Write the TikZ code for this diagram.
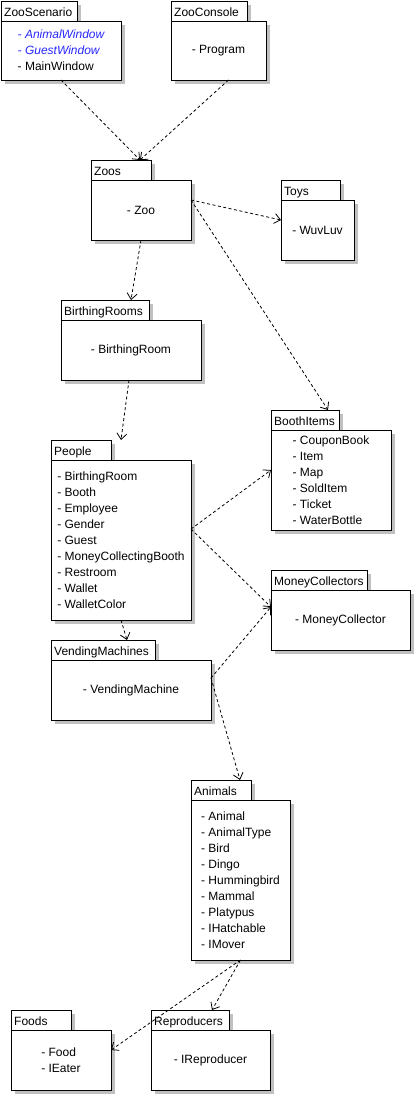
\documentclass[tikz,border=0pt]{standalone}
\usepackage{fontspec}
\setmainfont{Liberation Sans}
\usetikzlibrary{arrows.meta}
\definecolor{shadowgray}{RGB}{192,192,192}
\definecolor{itblue}{RGB}{40,40,255}
\tikzset{
  pkgshadow/.style={fill=shadowgray},
  pkgtab/.style={draw=black, fill=white, line width=1pt, inner sep=0pt, outer sep=0pt, minimum height=20pt},
  pkgbody/.style={draw=black, fill=white, line width=1pt, inner sep=0pt, outer sep=0pt, align=left,
    font=\fontsize{12}{16}\selectfont},
  pkglabel/.style={anchor=base west, inner sep=0pt, font=\fontsize{12}{16}\selectfont},
  dep/.style={line width=0.8pt, dash pattern=on 3pt off 2.5pt, -{Straight Barb[length=6pt,width=10pt,line width=0.8pt]}}
}
\newcommand\pkgbox[8]{%
  \fill[pkgshadow] (#3+4,#4+4) rectangle (#5+4,#4+20);
  \fill[pkgshadow] (#3+4,#4+24) rectangle (#6+4,#7+4);
  \node[pkgtab, minimum width={(#5-#3)*1pt}, anchor=north west] (#1-tab) at (#3,#4) {};
  \node[pkgbody, minimum width={(#6-#3)*1pt}, minimum height={(#7-#4-20)*1pt}, anchor=north west] (#1) at (#3,#4+20) {#8};
  \node[pkglabel] (#1-label) at (#3+3,#4+15) {#2};
}
\begin{document}
\begin{tikzpicture}[x=1pt,y=-1pt]
\useasboundingbox (0,0) rectangle (415,1095);
\fill[white] (0,0) rectangle (415,1095);

\pkgbox{zs}{ZooScenario}{1}{1}{77}{121}{80}{{\color{itblue}\itshape - AnimalWindow}\\{\color{itblue}\itshape - GuestWindow}\\- MainWindow}
\pkgbox{zc}{ZooConsole}{171}{1}{247}{266}{80}{- Program}
\pkgbox{zoos}{Zoos}{91}{160}{151}{191}{240}{- Zoo}
\pkgbox{toys}{Toys}{281}{180}{340}{354}{260}{- WuvLuv}
\pkgbox{br}{BirthingRooms}{61}{300}{149}{201}{380}{- BirthingRoom}
\pkgbox{people}{People}{51}{440}{111}{191}{620}{- BirthingRoom\\- Booth\\- Employee\\- Gender\\- Guest\\- MoneyCollectingBooth\\- Restroom\\- Wallet\\- WalletColor}
\pkgbox{bi}{BoothItems}{271}{410}{339}{391}{530}{- CouponBook\\- Item\\- Map\\- SoldItem\\- Ticket\\- WaterBottle}
\pkgbox{mc}{MoneyCollectors}{271}{570}{367}{410}{650}{- MoneyCollector}
\pkgbox{vm}{VendingMachines}{51}{640}{155}{211}{720}{- VendingMachine}
\pkgbox{an}{Animals}{191}{780}{251}{290}{960}{- Animal\\- AnimalType\\- Bird\\- Dingo\\- Hummingbird\\- Mammal\\- Platypus\\- IHatchable\\- IMover}
\pkgbox{fd}{Foods}{11}{1010}{71}{111}{1090}{- Food\\- IEater}
\pkgbox{rp}{Reproducers}{151}{1010}{229}{270}{1090}{- IReproducer}

\draw[dep] (zs.south) -- ([xshift=-11pt]zoos-tab.north east);
\draw[dep] ([xshift=10pt]zc.south) -- ([xshift=-11pt]zoos-tab.north east);
\draw[dep] ([yshift=-20pt]zoos.north east) -- ([yshift=-20pt]toys.north west);
\draw[dep] ([yshift=-20pt]zoos.north east) -- ([xshift=-11pt]bi-tab.north east);
\draw[dep] (zoos.south) -- ([xshift=-18pt]br-tab.north east);
\draw[dep] ([xshift=-2pt]br.south) -- ([xshift=10pt]people-tab.north east);
\draw[dep] ([yshift=11pt]people.east) -- ([yshift=10pt]bi.west);
\draw[dep] ([yshift=11pt]people.east) -- ([yshift=13pt]mc.west);
\draw[dep] (people.south) -- ([xshift=76pt]vm-tab.north west);
\draw[dep] ([yshift=-18pt]vm.north east) -- ([yshift=13pt]mc.west);
\draw[dep] ([yshift=-18pt]vm.north east) -- ([xshift=-11pt]an-tab.north east);
\draw[dep] (an.south) -- ([yshift=10pt]fd.east);
\draw[dep] (an.south) -- ([xshift=-17pt]rp-tab.north east);
\end{tikzpicture}
\end{document}
